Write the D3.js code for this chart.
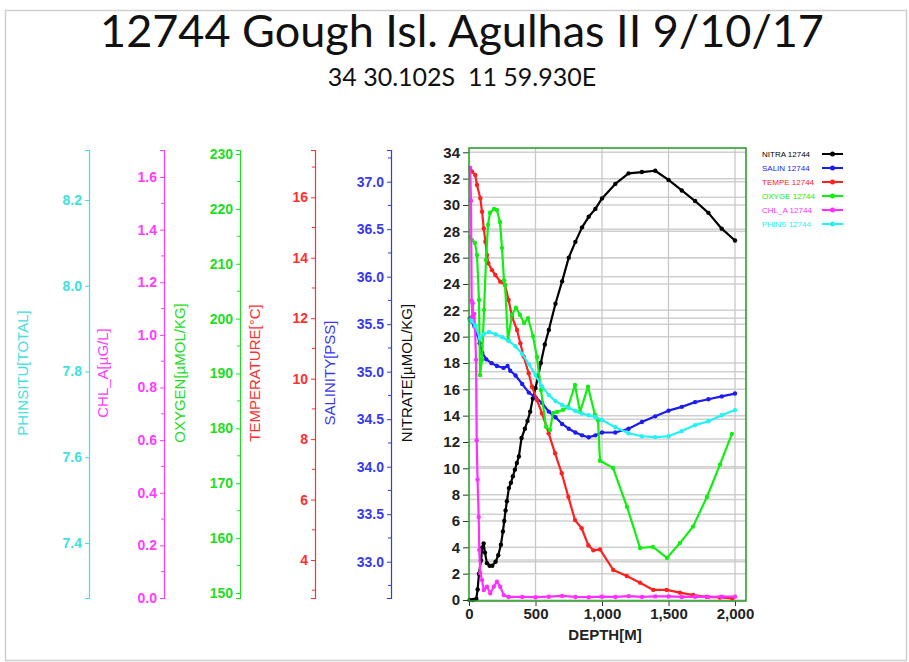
<!DOCTYPE html>
<html>
<head>
<meta charset="utf-8">
<script src="https://cdn.jsdelivr.net/npm/d3@7"></script>
<style>
  html, body { margin: 0; padding: 0; background: #fff; }
  svg { display: block; }
</style>
</head>
<body>
<svg id="chart" width="909" height="662"></svg>
<script>
// ---------------- DATA ----------------
const titleText = "12744 Gough Isl. Agulhas II 9/10/17";
const subtitleText = "34 30.102S\u00a0\u00a011 59.930E";

const depthTicks = [0, 500, 1000, 1500, 2000];
const nitrateTicks = d3.range(0, 35, 2);
const salinityTicks = [33.0, 33.5, 34.0, 34.5, 35.0, 35.5, 36.0, 36.5, 37.0];
const temperatureTicks = [4, 6, 8, 10, 12, 14, 16];
const oxygenTicks = [150, 160, 170, 180, 190, 200, 210, 220, 230];
const chlTicks = [0.0, 0.2, 0.4, 0.6, 0.8, 1.0, 1.2, 1.4, 1.6];
const phTicks = [7.4, 7.6, 7.8, 8.0, 8.2];

const nitrateDepth = [5,30,55,65,75,90,100,110,120,135,155,175,200,220,240,255,265,275,285,300,315,330,345,360,375,395,420,440,460,480,500,520,540,570,600,650,700,750,800,850,900,950,1000,1100,1200,1300,1400,1500,1600,1700,1800,1900,2000];
const nitrateValues = [0,0,0.1,0.8,2.0,3.0,4.0,4.3,3.6,2.8,2.6,2.6,2.9,3.4,4.2,5.2,6.0,6.8,7.5,8.5,8.9,9.4,9.9,10.4,10.9,12.3,13.0,13.6,14.3,15.3,16.1,17.0,18.0,19.4,20.5,22.5,24.2,26.0,27.2,28.3,29.1,29.7,30.5,31.6,32.4,32.5,32.6,31.9,31.1,30.3,29.4,28.2,27.3];

const salinityDepth = [5,20,40,60,80,100,130,170,210,260,290,310,350,400,450,500,550,600,650,700,750,800,850,900,950,1000,1100,1200,1300,1400,1500,1600,1700,1800,1900,2000];
const salinityValues = [35.56,35.53,35.48,35.40,35.30,35.20,35.13,35.09,35.06,35.04,35.06,35.01,34.96,34.87,34.78,34.73,34.67,34.58,34.52,34.45,34.40,34.36,34.33,34.31,34.33,34.36,34.36,34.40,34.47,34.53,34.59,34.63,34.68,34.71,34.74,34.77];

const temperatureDepth = [10,23,47,60,85,98,111,123,135,145,173,198,235,271,298,323,361,386,411,449,474,511,549,599,647,697,747,797,847,897,935,985,1085,1186,1286,1386,1486,1586,1686,1786,1886,1980];
const temperatureValues = [16.90,16.85,16.74,16.41,15.97,15.52,14.97,14.53,14.09,13.82,13.59,13.43,13.21,13.10,12.60,12.05,11.61,11.17,10.73,10.18,9.73,9.29,8.85,8.19,7.53,6.87,6.09,5.32,5.05,4.49,4.32,4.35,3.67,3.47,3.25,3.01,3.01,2.92,2.84,2.78,2.76,2.73];

const oxygenDepth = [8,23,45,60,75,83,98,113,128,143,158,188,210,233,248,263,271,293,323,353,383,414,444,481,511,541,579,609,632,662,707,744,797,835,895,947,970,985,1083,1188,1286,1383,1489,1586,1684,1789,1887,1977];
const oxygenValues = [214.9,214.3,213.8,211.6,203.4,189.7,192.5,201.6,210.7,217.1,219.3,220.0,219.8,217.6,212.9,207.0,206.1,196.1,200.7,202.0,200.7,199.2,200.1,196.8,193.0,187.0,180.3,179.7,182.8,183.0,183.4,183.9,187.9,183.0,187.6,182.5,181.5,174.1,172.8,165.7,158.2,158.4,156.4,159.1,162.1,167.5,173.4,179.0];

const chlDepth = [8,15,20,25,28,32,40,45,53,58,64,73,77,85,98,111,135,160,186,210,235,261,298,400,500,600,700,800,900,1000,1100,1200,1300,1400,1500,1600,1700,1800,1900,2000];
const chlValues = [1.635,1.51,1.13,1.07,1.12,1.05,1.08,1.03,0.905,0.60,0.45,0.308,0.183,0.095,0.068,0.030,0.043,0.018,0.043,0.062,0.043,0.011,0.004,0.004,0.003,0.005,0.008,0.004,0.003,0.005,0.004,0.007,0.004,0.006,0.006,0.004,0.005,0.004,0.005,0.005];

const phDepth = [5,20,50,80,110,150,200,250,300,350,400,450,500,550,600,650,700,750,800,850,900,950,1000,1100,1200,1300,1400,1500,1600,1700,1800,1900,2000];
const phValues = [7.920,7.918,7.906,7.878,7.887,7.892,7.887,7.880,7.871,7.859,7.841,7.817,7.792,7.765,7.745,7.731,7.722,7.715,7.708,7.702,7.698,7.694,7.687,7.670,7.656,7.649,7.647,7.649,7.661,7.675,7.684,7.698,7.710];

const legendLabels = ["NITRA 12744","SALIN 12744","TEMPE 12744","OXYGE 12744","CHL_A 12744","PHINS 12744"];

// ---------------- CHART ----------------
const svg = d3.select("#chart");
const FONT = "'Liberation Sans', Arial, sans-serif";

// page border
svg.append("rect").attr("x", 5.5).attr("y", 10.5).attr("width", 901).attr("height", 650)
  .attr("fill", "none").attr("stroke", "#cfcfcf").attr("stroke-width", 1.5);

svg.append("text").attr("x", 462).attr("y", 47).attr("text-anchor", "middle")
  .attr("font-family", "Lato, 'Open Sans', sans-serif").attr("font-size", 45).attr("fill", "#111")
  .text(titleText);
svg.append("text").attr("x", 462).attr("y", 86).attr("text-anchor", "middle")
  .attr("font-family", "Lato, 'Open Sans', sans-serif").attr("font-size", 25).attr("fill", "#111")
  .text(subtitleText);

const plotL = 469, plotR = 746, plotT = 148, plotB = 601;

const x = d3.scaleLinear().domain([0, 2000]).range([469, 735]);
const yN = d3.scaleLinear().domain([0, 34]).range([600, 152.3]);

function extended(lo, hi, pLo, pHi) {
  const s = d3.scaleLinear().domain([lo, hi]).range([pLo, pHi]);
  return d3.scaleLinear().domain([s.invert(598), s.invert(150)]).range([598, 150]);
}
const yPH = extended(7.4, 8.2, 543, 200);
const yChl = extended(0, 1.6, 598, 177);
const yOx = extended(150, 230, 593, 154);
const yT = extended(4, 16, 560, 197.3);
const yS = extended(33, 37, 561.7, 181.7);

// gridlines
const grid = svg.append("g");
const gridColor = "#d0d0d0";
nitrateTicks.forEach(v => grid.append("line").attr("x1", plotL).attr("x2", plotR)
  .attr("y1", yN(v)).attr("y2", yN(v)).attr("stroke", gridColor).attr("stroke-width", 1.5));
salinityTicks.forEach(v => grid.append("line").attr("x1", plotL).attr("x2", plotR)
  .attr("y1", yS(v)).attr("y2", yS(v)).attr("stroke", gridColor).attr("stroke-width", 1.5));
temperatureTicks.forEach(v => grid.append("line").attr("x1", plotL).attr("x2", plotR)
  .attr("y1", yT(v)).attr("y2", yT(v)).attr("stroke", gridColor).attr("stroke-width", 1.5));
depthTicks.slice(1).forEach(v => grid.append("line").attr("x1", x(v)).attr("x2", x(v))
  .attr("y1", plotT).attr("y2", plotB).attr("stroke", "#c8c8c8").attr("stroke-width", 1.3));

// left axes
function leftAxis(scale, xpos, ticks, minor, color, fmt, title, titleX) {
  const g = svg.append("g").attr("transform", `translate(${xpos},0)`);
  const ax = d3.axisLeft(scale).tickValues(ticks).tickSize(4).tickPadding(3).tickFormat(fmt);
  g.call(ax);
  g.select(".domain").attr("stroke", color).attr("stroke-width", 1.2);
  g.selectAll(".tick line").attr("stroke", color);
  g.selectAll(".tick text").attr("fill", color).attr("font-family", FONT)
    .attr("font-size", 14).attr("font-weight", "bold");
  minor.forEach(v => g.append("line").attr("x1", -3).attr("x2", 0)
    .attr("y1", scale(v)).attr("y2", scale(v)).attr("stroke", color));
  svg.append("text").attr("transform", `translate(${titleX + 5},373) rotate(-90)`)
    .attr("text-anchor", "middle").attr("font-family", FONT).attr("font-size", 15)
    .attr("fill", color).text(title);
}
const f1 = d3.format(".1f");
leftAxis(yPH, 89, phTicks, [], "#3ee0e0", f1, "PHINSITU[TOTAL]", 23);
leftAxis(yChl, 164, chlTicks, d3.range(0.1, 1.7, 0.2), "#ff3cff", f1, "CHL_A[µG/L]", 103);
leftAxis(yOx, 240, oxygenTicks, d3.range(155, 230, 10), "#22dd22", d3.format("d"), "OXYGEN[µMOL/KG]", 180);
leftAxis(yT, 315, temperatureTicks, [3, 5, 7, 9, 11, 13, 15, 17], "#ff3030", d3.format("d"), "TEMPERATURE[°C]", 255);
leftAxis(yS, 391, salinityTicks, [32.75, 33.25, 33.75, 34.25, 34.75, 35.25, 35.75, 36.25, 36.75, 37.25], "#3838ee", f1, "SALINITY[PSS]", 330);
svg.append("text").attr("transform", `translate(${407 + 5},373) rotate(-90)`)
  .attr("text-anchor", "middle").attr("font-family", FONT).attr("font-size", 15)
  .attr("fill", "#111").text("NITRATE[µMOL/KG]");

// nitrate axis
const gN = svg.append("g").attr("transform", `translate(${plotL},0)`)
  .call(d3.axisLeft(yN).tickValues(nitrateTicks).tickSize(6).tickPadding(3));
gN.select(".domain").remove();
gN.selectAll(".tick line").attr("stroke", "#333");
gN.selectAll(".tick text").attr("fill", "#222").attr("font-family", FONT)
  .attr("font-size", 15).attr("font-weight", "bold");

// depth axis
const gX = svg.append("g").attr("transform", `translate(0,${plotB})`)
  .call(d3.axisBottom(x).tickValues(depthTicks).tickSize(5).tickPadding(2).tickFormat(d3.format(",")));
gX.select(".domain").remove();
gX.selectAll(".tick line").attr("stroke", "#333");
gX.selectAll(".tick text").attr("fill", "#222").attr("font-family", FONT)
  .attr("font-size", 15).attr("font-weight", "bold");
svg.append("text").attr("x", 605).attr("y", 640).attr("text-anchor", "middle")
  .attr("font-family", FONT).attr("font-size", 15).attr("font-weight", "bold")
  .attr("fill", "#222").text("DEPTH[M]");

// series
const series = [
  { d: nitrateDepth, v: nitrateValues, y: yN, color: "#000000" },
  { d: salinityDepth, v: salinityValues, y: yS, color: "#1c1cf0" },
  { d: temperatureDepth, v: temperatureValues, y: yT, color: "#ff2020" },
  { d: oxygenDepth, v: oxygenValues, y: yOx, color: "#11ee11" },
  { d: chlDepth, v: chlValues, y: yChl, color: "#ff30ff" },
  { d: phDepth, v: phValues, y: yPH, color: "#22f2f2" }
];
const gS = svg.append("g");
series.forEach(s => {
  const pts = s.d.map((dd, i) => [dd, s.v[i]]);
  const line = d3.line().x(p => x(p[0])).y(p => s.y(p[1]));
  gS.append("path").datum(pts).attr("d", line).attr("fill", "none")
    .attr("stroke", s.color).attr("stroke-width", 2.2).attr("stroke-linejoin", "round");
  gS.selectAll(null).data(pts).enter().append("circle")
    .attr("cx", p => x(p[0])).attr("cy", p => s.y(p[1])).attr("r", 2.2).attr("fill", s.color);
});

// frame
svg.append("rect").attr("x", plotL).attr("y", plotT).attr("width", plotR - plotL).attr("height", plotB - plotT)
  .attr("fill", "none").attr("stroke", "#2e9e2e").attr("stroke-width", 1.6);

// legend
const lg = svg.append("g");
legendLabels.forEach((lab, i) => {
  const yy = 154 + i * 14;
  const c = series[i].color;
  lg.append("text").attr("x", 762).attr("y", yy + 3).attr("font-family", FONT)
    .attr("font-size", 8).attr("fill", c).text(lab);
  lg.append("line").attr("x1", 822).attr("x2", 843).attr("y1", yy).attr("y2", yy)
    .attr("stroke", c).attr("stroke-width", 2);
  lg.append("circle").attr("cx", 832.5).attr("cy", yy).attr("r", 2.5).attr("fill", c);
});
</script>
</body>
</html>
